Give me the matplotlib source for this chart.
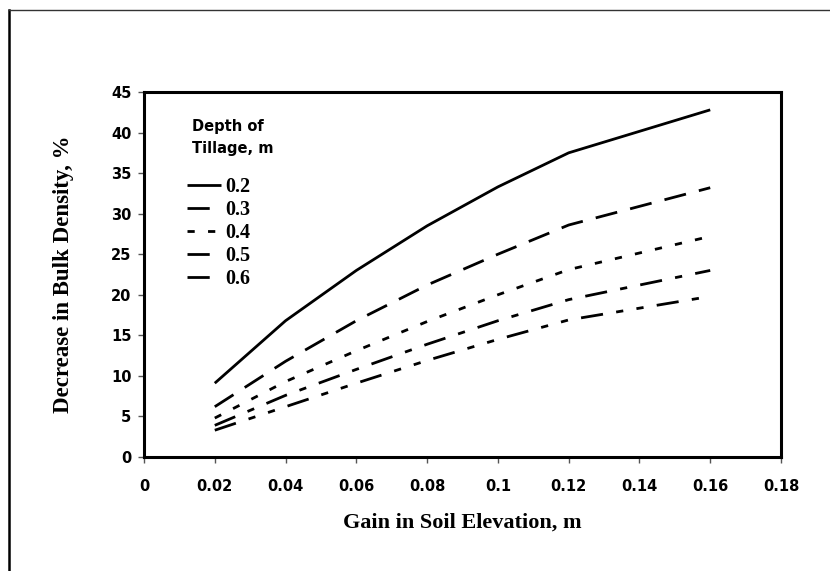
import matplotlib
matplotlib.use("Agg")
import matplotlib.pyplot as plt
from matplotlib.lines import Line2D

# ---- data ----
x_vals = [0.02, 0.04, 0.06, 0.08, 0.10, 0.12, 0.16]
depths = ["0.2", "0.3", "0.4", "0.5", "0.6"]
d02 = [9.1, 16.8, 23.0, 28.5, 33.3, 37.5, 42.8]
d03 = [6.2, 11.8, 16.8, 21.2, 25.0, 28.6, 33.2]
d04 = [4.8, 9.3, 13.1, 16.7, 20.0, 23.1, 27.2]
d05 = [3.9, 7.6, 10.8, 13.9, 16.8, 19.4, 23.0]
d06 = [3.3, 6.2, 9.1, 11.9, 14.5, 16.9, 19.8]
series = [d02, d03, d04, d05, d06]
x_ticks = [0, 0.02, 0.04, 0.06, 0.08, 0.1, 0.12, 0.14, 0.16, 0.18]
x_ticklabels = ["0", "0.02", "0.04", "0.06", "0.08", "0.1", "0.12", "0.14", "0.16", "0.18"]
y_ticks = [0, 5, 10, 15, 20, 25, 30, 35, 40, 45]
legend_title = ["Depth of", "Tillage, m"]

lw = 2.0
styles = [
    (0, ()),
    (0, (8.0, 4.8)),
    (0, (2.6, 4.8)),
    (0, (8.0, 4.8, 2.6, 4.8)),
    (0, (8.0, 4.8, 2.6, 4.8, 2.6, 4.8)),
]

W, H = 830, 571
fig = plt.figure(figsize=(W / 100, H / 100), dpi=100)
ax = fig.add_axes([144 / W, 1 - 457 / H, (781 - 144) / W, (457 - 92) / H])

for vals, lab, ls in zip(series, depths, styles):
    ax.plot(x_vals, vals, color="black", lw=lw, linestyle=ls, label=lab,
            solid_capstyle="butt", dash_capstyle="butt")

ax.set_xlim(0, 0.18)
ax.set_ylim(0, 45)
ax.set_xticks(x_ticks)
ax.set_xticklabels(x_ticklabels)
ax.set_yticks(y_ticks)

for t in ax.get_xticklabels() + ax.get_yticklabels():
    t.set_fontfamily("DejaVu Sans")
    t.set_fontweight("bold")
    t.set_fontsize(10.5)
ax.tick_params(direction="out", length=4, width=1, color="#555555")
ax.tick_params(axis="x", pad=12)
ax.tick_params(axis="y", pad=5)
for s in ax.spines.values():
    s.set_linewidth(2.2)
    s.set_color("black")

ax.set_xlabel("Gain in Soil Elevation, m", family="Liberation Serif", weight="bold",
              size=16, labelpad=13)
ax.set_ylabel("Decrease in Bulk Density, %", family="Liberation Serif", weight="bold",
              size=16.5, labelpad=26.5)

# legend title as two lines of text
for i, line in enumerate(legend_title):
    fig.text(192 / W, 1 - (127 + 22 * i) / H, line, family="DejaVu Sans",
             weight="bold", size=10.5, ha="left", va="center")

leg = ax.legend(loc="upper left", bbox_to_anchor=(187 / W, 1 - 177 / H),
                bbox_transform=fig.transFigure, frameon=False,
                prop=dict(family="Liberation Serif", weight="bold", size=14.5),
                handlelength=1.7, handletextpad=0.2, labelspacing=0.15,
                borderpad=0, borderaxespad=0)

# outer border of figure
fig.add_artist(Line2D([9 / W, 9 / W], [0, 1 - 10 / H], transform=fig.transFigure,
                      color="black", lw=1.8))
fig.add_artist(Line2D([9 / W, 1], [1 - 10 / H, 1 - 10 / H], transform=fig.transFigure,
                      color="#333333", lw=1.0))

fig.savefig("out.png", dpi=100)
